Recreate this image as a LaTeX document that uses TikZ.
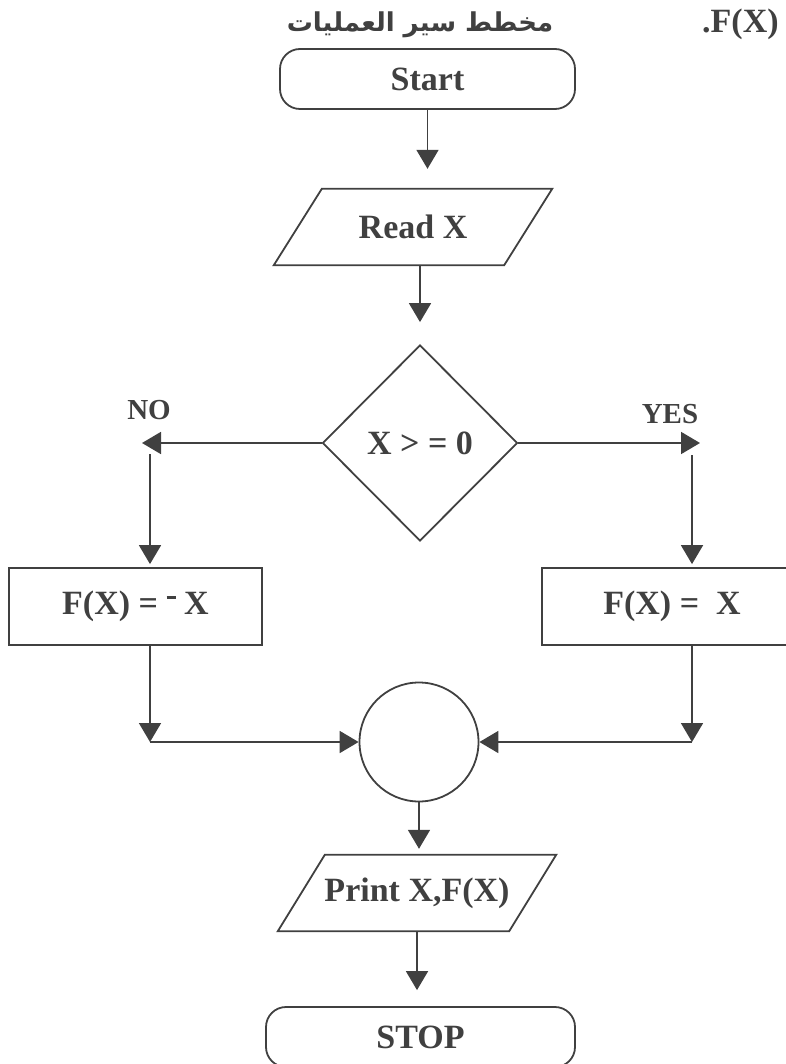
\documentclass[tikz,border=0pt]{standalone}
\usepackage{fontspec}
\setmainfont{Liberation Serif}
\newfontfamily\arabicfont[Script=Arabic]{DejaVu Sans}
\TeXXeTstate=1
\usetikzlibrary{arrows.meta,shapes.geometric}
\definecolor{ink}{RGB}{64,64,64}
\tikzset{
  lbl/.style={text=ink, font=\fontsize{34}{40}\selectfont\bfseries, inner sep=0pt},
  term/.style={lbl, draw=ink, line width=1.8pt, rounded corners=20pt, minimum height=60pt},
  procbox/.style={lbl, draw=ink, line width=1.8pt, minimum height=77pt},
  iobox/.style={lbl, minimum height=76pt, minimum width=230pt},
  decbox/.style={lbl, draw=ink, line width=1.8pt, diamond, minimum width=195pt, minimum height=196pt},
  joincirc/.style={draw=ink, line width=1.8pt, circle, minimum size=119pt, inner sep=0pt},
  conn/.style={draw=ink, line width=1.8pt, line join=miter},
  arr/.style={conn, -{Triangle[length=19pt,width=22pt]}},
  small/.style={text=ink, font=\fontsize{29}{34}\selectfont\bfseries, inner sep=0pt},
}
\begin{document}
\begin{tikzpicture}[x=1pt,y=-1pt]
\useasboundingbox (0,0) rectangle (785,1064);
% title
\node[lbl] (title) at (420,25) {\arabicfont\fontsize{26}{32}\selectfont\beginR مخطط سير العمليات\endR};
\node[lbl, anchor=west] (fx) at (702,24) {.F(X)};
% nodes
\node[term, minimum width=295pt] (start) at (427.5,79) {Start};
\node[iobox] (read) at (413,227) {Read X};
\draw[conn] ([xshift=-24pt]read.south west) -- ([xshift=24pt]read.north west) -- ([xshift=24pt]read.north east) -- ([xshift=-24pt]read.south east) -- cycle;
\node[decbox] (dec) at (420,443) {X > = 0};
\node[procbox, minimum width=253pt] (lbox) at (135.5,606.5) {F(X) = \raisebox{.47em}{\rule{.27em}{.09em}} X};
\node[procbox, minimum width=260pt] (rbox) at (672,606.5) {F(X) = \ X};
\node[joincirc] (join) at (419,742) {};
\node[iobox, minimum width=231pt] (print) at (417,893) {Print X,F(X)};
\draw[conn] ([xshift=-23.5pt]print.south west) -- ([xshift=23.5pt]print.north west) -- ([xshift=23.5pt]print.north east) -- ([xshift=-23.5pt]print.south east) -- cycle;
\node[term, minimum width=309pt] (stop) at (420.5,1037) {STOP};
\node[small] (no) at (149,410) {NO};
\node[small] (yes) at (670,414) {YES};
% free ends
\coordinate (noTip) at (142,443);
\coordinate (noDrop) at (150,454);
\coordinate (yesTip) at (700,443);
\coordinate (yesDrop) at (692,455);
\coordinate (lJoin) at (150,742);
\coordinate (rJoin) at (692,742);
% connectors
\draw[arr, shorten >=20pt] (start.south) -- (start.south |- read.north);
\draw[arr, shorten >=22pt] (dec.north |- read.south) -- (dec.north);
\draw[arr] (dec.west) -- (noTip);
\draw[arr] (dec.east) -- (yesTip);
\draw[arr, shorten >=3pt] (noDrop) -- (noDrop |- lbox.north);
\draw[arr, shorten >=3pt] (yesDrop) -- (yesDrop |- rbox.north);
\draw[arr] (lJoin |- lbox.south) -- (lJoin);
\draw[arr] (rJoin |- rbox.south) -- (rJoin);
\draw[arr] (lJoin) -- (join.west);
\draw[arr] (rJoin) -- (join.east);
\draw[arr, shorten >=6pt] (join.south) -- (join.south |- print.north);
\draw[arr, shorten >=16pt] (print.south) -- (print.south |- stop.north);
\end{tikzpicture}
\end{document}
